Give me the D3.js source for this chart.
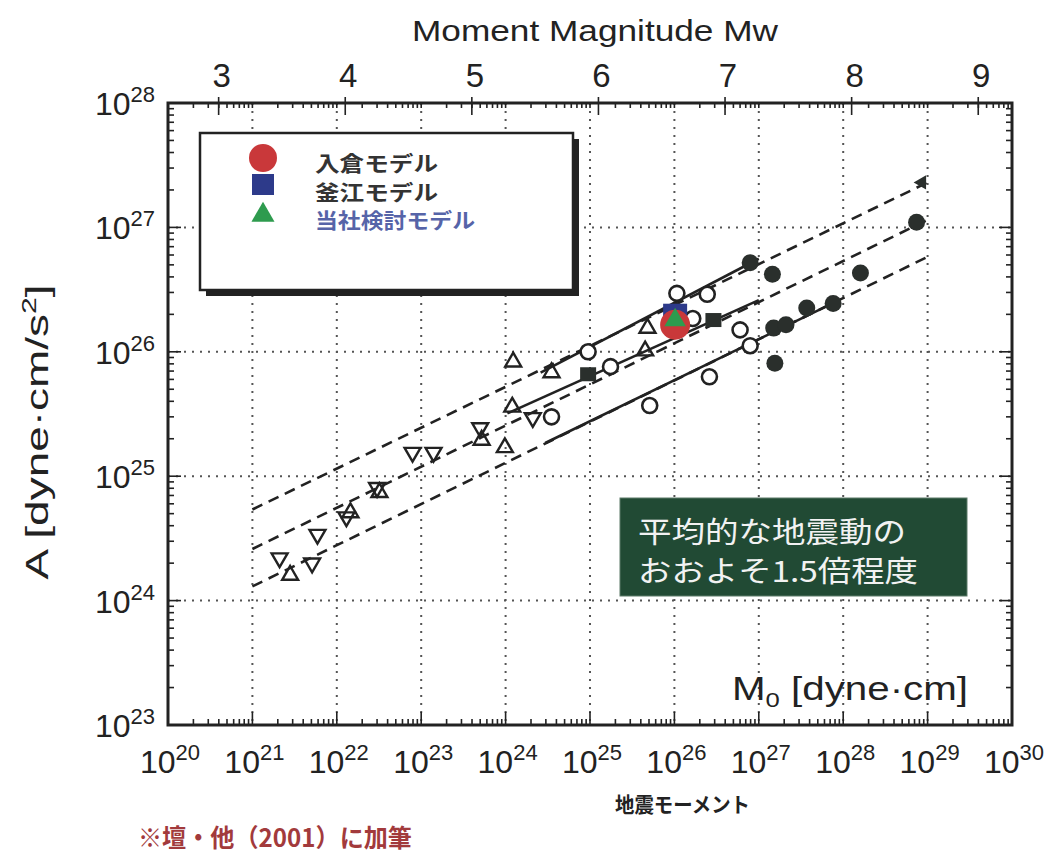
<!DOCTYPE html>
<html>
<head>
<meta charset="utf-8">
<script src="https://cdn.jsdelivr.net/npm/d3@7/dist/d3.min.js"></script>
<style>
    body { margin: 0; background: #fff; }
    svg text { font-family: "Liberation Sans", Arial, sans-serif; fill: #222; }
    svg .jp { font-family: "Noto Sans CJK JP", sans-serif; }
</style>
</head>
<body>
<div id="chart"></div>
<script>
// values (M0 in dyne-cm, A in dyne-cm/s^2)
const invTriangles = [
    [2.1e21, 2.2e24], [5.9e21, 3.4e24], [5.1e21, 2.0e24], [1.3e22, 4.7e24],
    [3.0e22, 8.1e24], [7.9e22, 1.55e25], [1.4e23, 1.55e25], [5.0e23, 2.45e25],
    [2.1e24, 2.95e25]
];
const upTriangles = [
    [2.8e21, 1.6e24], [1.45e22, 5.1e24], [3.2e22, 7.4e24], [5.2e23, 1.95e25],
    [9.8e23, 1.7e25], [1.23e24, 8.3e25], [1.2e24, 3.6e25], [3.5e24, 6.8e25],
    [4.5e25, 1.02e26], [4.8e25, 1.55e26]
];
const openCircles = [
    [3.5e24, 3.0e25], [9.5e24, 1.0e26], [1.75e25, 7.6e25], [5.1e25, 3.7e25],
    [1.07e26, 2.95e26], [2.45e26, 2.9e26], [1.65e26, 1.85e26], [2.6e26, 6.3e25],
    [6.0e26, 1.5e26], [7.9e26, 1.12e26]
];
const filledCircles = [
    [7.9e26, 5.2e26], [1.45e27, 4.2e26], [1.5e27, 1.55e26], [2.1e27, 1.65e26],
    [3.7e27, 2.25e26], [7.6e27, 2.45e26], [1.6e28, 4.3e26], [1.55e27, 8.1e25],
    [7.4e28, 1.1e27]
];
const filledSquares = [[2.9e26, 1.8e26], [9.5e24, 6.6e25]];
const filledTriangles = [[9.3e28, 2.3e27]];

// regression lines (dashed: mean and factor-2 bounds; solid: sub data sets)
const dashedLines = [
    [[1e21, 5.4e24], [1e29, 2.3e27]],
    [[1e21, 2.6e24], [1e29, 1.15e27]],
    [[1e21, 1.3e24], [1e29, 5.8e26]]
];
const solidLines = [
    [[2.6e24, 6.8e25], [1.0e27, 5.6e26]],
    [[1.05e24, 3.2e25], [1.0e27, 2.6e26]],
    [[2.95e24, 1.85e25], [7.9e27, 2.5e26]]
];

// model results
const modelNames = ['入倉モデル', '釜江モデル', '当社検討モデル'];
const modelPoints = [[1.02e26, 1.65e26], [1.02e26, 1.95e26], [1.02e26, 1.8e26]];

const xTickExps = [20, 21, 22, 23, 24, 25, 26, 27, 28, 29, 30];
const yTickExps = [23, 24, 25, 26, 27, 28];
const mwTicks = [3, 4, 5, 6, 7, 8, 9];
const gridX = [21, 22, 23, 24, 25, 26, 27, 28, 29];
const gridY = [24, 25, 26, 27];

const W = 1057, H = 855;
const pL = 168, pR = 1012, pT = 103, pB = 725;

const svg = d3.select('#chart').append('svg')
    .attr('width', W).attr('height', H);

const x = d3.scaleLog().domain([1e20, 1e30]).range([pL, pR]);
const y = d3.scaleLog().domain([1e23, 1e28]).range([pB, pT]);
// Mw = (log10 M0 - 16.1) / 1.5
const xMw = d3.scaleLinear().domain([(20 - 16.1) / 1.5, (30 - 16.1) / 1.5]).range([pL, pR]);

// grid
const grid = svg.append('g').attr('stroke', '#555').attr('stroke-width', 2)
    .attr('stroke-dasharray', '2,6');
grid.selectAll('.gx').data(gridX).enter().append('line')
    .attr('x1', d => x(Math.pow(10, d))).attr('x2', d => x(Math.pow(10, d)))
    .attr('y1', pT).attr('y2', pB);
grid.selectAll('.gy').data(gridY).enter().append('line')
    .attr('y1', d => y(Math.pow(10, d))).attr('y2', d => y(Math.pow(10, d)))
    .attr('x1', pL).attr('x2', pR);

// lines
const line = d3.line().x(d => x(d[0])).y(d => y(d[1]));
svg.append('g').selectAll('path').data(dashedLines).enter().append('path')
    .attr('d', line).attr('fill', 'none').attr('stroke', '#222')
    .attr('stroke-width', 2.6).attr('stroke-dasharray', '11,7');
svg.append('g').selectAll('path').data(solidLines).enter().append('path')
    .attr('d', line).attr('fill', 'none').attr('stroke', '#222')
    .attr('stroke-width', 2.6);

// markers
const tri = d3.symbol().type(d3.symbolTriangle).size(110);
svg.append('g').selectAll('path').data(invTriangles).enter().append('path')
    .attr('d', tri)
    .attr('transform', d => `translate(${x(d[0])},${y(d[1])}) rotate(180)`)
    .attr('fill', 'none').attr('stroke', '#222').attr('stroke-width', 2.4);
svg.append('g').selectAll('path').data(upTriangles).enter().append('path')
    .attr('d', tri)
    .attr('transform', d => `translate(${x(d[0])},${y(d[1])})`)
    .attr('fill', 'none').attr('stroke', '#222').attr('stroke-width', 2.4);
svg.append('g').selectAll('circle').data(openCircles).enter().append('circle')
    .attr('cx', d => x(d[0])).attr('cy', d => y(d[1])).attr('r', 7.5)
    .attr('fill', '#fff').attr('stroke', '#222').attr('stroke-width', 2.6);
svg.append('g').selectAll('circle').data(filledCircles).enter().append('circle')
    .attr('cx', d => x(d[0])).attr('cy', d => y(d[1])).attr('r', 8.5)
    .attr('fill', '#2a2f2c');
svg.append('g').selectAll('rect').data(filledSquares).enter().append('rect')
    .attr('x', d => x(d[0]) - 8).attr('y', d => y(d[1]) - 7)
    .attr('width', 16).attr('height', 14).attr('fill', '#2a2f2c');
svg.append('g').selectAll('path').data(filledTriangles).enter().append('path')
    .attr('d', d3.symbol().type(d3.symbolTriangle).size(90))
    .attr('transform', d => `translate(${x(d[0]) - 3},${y(d[1])}) rotate(30)`)
    .attr('fill', '#2a2f2c');

// model markers: square behind, circle, triangle on top
const modelColors = ['#c9383a', '#2d3a8a', '#2e9b4e'];
svg.append('rect')
    .attr('x', x(modelPoints[1][0]) - 12).attr('y', y(modelPoints[1][1]) - 12)
    .attr('width', 24).attr('height', 24).attr('fill', modelColors[1]);
svg.append('circle')
    .attr('cx', x(modelPoints[0][0])).attr('cy', y(modelPoints[0][1])).attr('r', 15)
    .attr('fill', modelColors[0]);
svg.append('path')
    .attr('d', d3.symbol().type(d3.symbolTriangle).size(200))
    .attr('transform', `translate(${x(modelPoints[2][0])},${y(modelPoints[2][1])})`)
    .attr('fill', modelColors[2]);

// legend
const lg = svg.append('g');
lg.append('rect').attr('x', 206).attr('y', 139).attr('width', 373).attr('height', 157)
    .attr('fill', '#222');
lg.append('rect').attr('x', 200).attr('y', 133).attr('width', 373).attr('height', 157)
    .attr('fill', '#fff').attr('stroke', '#222').attr('stroke-width', 2.5);
lg.append('circle').attr('cx', 263).attr('cy', 158).attr('r', 14).attr('fill', modelColors[0]);
lg.append('rect').attr('x', 252).attr('y', 174).attr('width', 22).attr('height', 21).attr('fill', modelColors[1]);
lg.append('path').attr('d', d3.symbol().type(d3.symbolTriangle).size(230))
    .attr('transform', 'translate(263,215)').attr('fill', modelColors[2]);
const labelColors = ['#333', '#333', '#5664a8'];
const labelLen = [123, 123, 160];
lg.selectAll('.lt').data(modelNames).enter().append('text')
    .attr('class', 'jp')
    .attr('x', 315).attr('y', (d, i) => 171 + i * 28.5)
    .attr('font-size', 21).attr('font-weight', 'bold')
    .attr('textLength', (d, i) => labelLen[i]).attr('lengthAdjust', 'spacingAndGlyphs')
    .style('fill', (d, i) => labelColors[i])
    .text(d => d);

// annotation box
svg.append('rect').attr('x', 620).attr('y', 498).attr('width', 347).attr('height', 98)
    .attr('fill', '#214a34').attr('stroke', '#5d7a68').attr('stroke-width', 1);
const note = ['平均的な地震動の', 'おおよそ1.5倍程度'];
svg.selectAll('.note').data(note).enter().append('text')
    .attr('class', 'jp')
    .attr('x', 638).attr('y', (d, i) => 543 + i * 39)
    .attr('font-size', 29)
    .attr('textLength', (d, i) => [268, 280][i]).attr('lengthAdjust', 'spacingAndGlyphs')
    .style('fill', '#f2f2f2')
    .text(d => d);

// M0 label inside plot
const m0 = svg.append('text').attr('x', 732).attr('y', 700).attr('font-size', 33)
    .attr('textLength', 236).attr('lengthAdjust', 'spacingAndGlyphs');
m0.append('tspan').text('M');
m0.append('tspan').attr('font-size', 21).attr('dy', 7).text('0');
m0.append('tspan').attr('dy', -7).text(' [dyne·cm]');

// frame ticks
const ticks = svg.append('g').attr('stroke', '#222').attr('stroke-width', 1.6);
const xMinor = [], yMinor = [];
for (let e = 20; e < 30; e++) for (let k = 1; k < 10; k++) xMinor.push(k * Math.pow(10, e));
for (let e = 23; e < 28; e++) for (let k = 1; k < 10; k++) yMinor.push(k * Math.pow(10, e));
const isMajor = v => Math.abs(Math.log10(v) - Math.round(Math.log10(v))) < 1e-9;
ticks.selectAll('.tb').data(xMinor).enter().append('line')
    .attr('x1', d => x(d)).attr('x2', d => x(d))
    .attr('y1', pB).attr('y2', d => pB - (isMajor(d) ? 13 : 6));
ticks.selectAll('.tt').data(xMinor).enter().append('line')
    .attr('x1', d => x(d)).attr('x2', d => x(d))
    .attr('y1', pT).attr('y2', pT + 5);
ticks.selectAll('.tm').data(mwTicks).enter().append('line')
    .attr('x1', d => xMw(d)).attr('x2', d => xMw(d))
    .attr('y1', pT - 6).attr('y2', pT + 12);
ticks.selectAll('.tl').data(yMinor).enter().append('line')
    .attr('y1', d => y(d)).attr('y2', d => y(d))
    .attr('x1', pL).attr('x2', d => pL + (isMajor(d) ? 13 : 6));
ticks.selectAll('.tr').data(yMinor).enter().append('line')
    .attr('y1', d => y(d)).attr('y2', d => y(d))
    .attr('x1', pR).attr('x2', d => pR - (isMajor(d) ? 13 : 6));

// frame
svg.append('rect').attr('x', pL).attr('y', pT)
    .attr('width', pR - pL).attr('height', pB - pT)
    .attr('fill', 'none').attr('stroke', '#222').attr('stroke-width', 3);

// bottom tick labels 10^n
const xl = svg.append('g').selectAll('text').data(xTickExps).enter().append('text')
    .attr('x', d => x(Math.pow(10, d)) + 2).attr('y', 773)
    .attr('text-anchor', 'middle').attr('font-size', 32);
xl.append('tspan').text('10');
xl.append('tspan').attr('font-size', 22).attr('dy', -13).text(d => d);

// left tick labels
const yl = svg.append('g').selectAll('text').data(yTickExps).enter().append('text')
    .attr('x', 155).attr('y', d => y(Math.pow(10, d)) + 12)
    .attr('text-anchor', 'end').attr('font-size', 32);
yl.append('tspan').text('10');
yl.append('tspan').attr('font-size', 22).attr('dy', -13).text(d => d);

// top Mw labels
svg.append('g').selectAll('text').data(mwTicks).enter().append('text')
    .attr('x', d => xMw(d) + 3).attr('y', 87)
    .attr('text-anchor', 'middle').attr('font-size', 33)
    .text(d => d);

svg.append('text').attr('x', 595).attr('y', 41).attr('text-anchor', 'middle')
    .attr('font-size', 29).attr('textLength', 366).attr('lengthAdjust', 'spacingAndGlyphs')
    .text('Moment Magnitude Mw');

svg.append('text')
    .attr('transform', 'translate(48,432) rotate(-90)')
    .attr('text-anchor', 'middle').attr('font-size', 32)
    .attr('textLength', 295).attr('lengthAdjust', 'spacingAndGlyphs')
    .html('A [dyne·cm/s<tspan font-size="21" dy="-12">2</tspan><tspan dy="12">]</tspan>');

svg.append('text').attr('class', 'jp')
    .attr('x', 615).attr('y', 812).attr('font-size', 21).attr('font-weight', 'bold')
    .attr('textLength', 135).attr('lengthAdjust', 'spacingAndGlyphs')
    .text('地震モーメント');

svg.append('text').attr('class', 'jp')
    .attr('x', 138).attr('y', 847).attr('font-size', 25).attr('font-weight', 'bold')
    .attr('textLength', 274).attr('lengthAdjust', 'spacingAndGlyphs')
    .style('fill', '#a23a3c')
    .text('※壇・他（2001）に加筆');
</script>
</body>
</html>
